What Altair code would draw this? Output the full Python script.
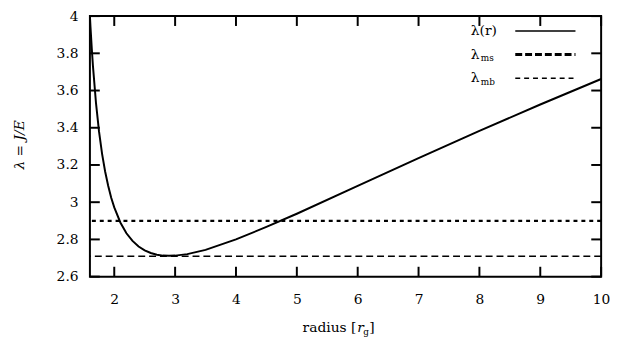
import altair as alt
import pandas as pd

# ---- data ----
radius = [1.60, 1.61, 1.63, 1.65, 1.70, 1.75, 1.80, 1.85, 1.90, 1.95,
          2.0, 2.1, 2.2, 2.3, 2.4, 2.5, 2.6, 2.7, 2.8, 2.9,
          3.0, 3.2, 3.5, 4.0, 4.5, 5.0, 6.0, 7.0, 8.0, 9.0, 10.0]
lam = [4.000, 3.939, 3.828, 3.731, 3.532, 3.379, 3.260, 3.165, 3.088, 3.024,
       2.972, 2.891, 2.833, 2.792, 2.762, 2.741, 2.727, 2.718, 2.713, 2.712,
       2.713, 2.721, 2.744, 2.800, 2.867, 2.938, 3.088, 3.237, 3.383, 3.525, 3.662]
lam_ms = [2.71]
lam_mb = [2.90]
x_ticks = [2, 3, 4, 5, 6, 7, 8, 9, 10]
y_ticks = [2.6, 2.8, 3.0, 3.2, 3.4, 3.6, 3.8, 4.0]
legend_main = ["λ(r)", "λ", "λ"]
legend_sub = ["", "ms", "mb"]

W, H = 518, 264
TOP = 6
FONT = "DejaVu Serif"
TL = 10  # inner tick length

xs = alt.Scale(domain=[1.6, 10], nice=False, zero=False)
ys = alt.Scale(domain=[2.6, 4.0], nice=False, zero=False)

x_axis = alt.Axis(values=x_ticks, title=None, labelPadding=16, format="~r",
                  labelFlush=False)
y_axis = alt.Axis(values=y_ticks, format="~r", labelPadding=12, labelFlush=False,
                  title="λ = J/E", titleFont=FONT, titleFontStyle="italic",
                  titleFontWeight="normal", titleFontSize=14, titleColor="black",
                  titleX=-71, titleY=130, titleBaseline="middle", titleAngle=270)

curve_df = pd.DataFrame({"r": radius, "lam": lam})

curve = alt.Chart(curve_df).mark_line(color="black", strokeWidth=2, clip=True).encode(
    x=alt.X("r:Q", scale=xs, axis=x_axis),
    y=alt.Y("lam:Q", scale=ys, axis=y_axis),
)

ms_line = alt.Chart(pd.DataFrame({"lam": lam_ms})).mark_rule(
    color="black", strokeWidth=1.5, strokeDash=[7, 4]).encode(
    y=alt.Y("lam:Q", scale=ys, axis=y_axis))
mb_line = alt.Chart(pd.DataFrame({"lam": lam_mb})).mark_rule(
    color="black", strokeWidth=2.2, strokeDash=[4, 4]).encode(
    y=alt.Y("lam:Q", scale=ys, axis=y_axis))

xt = pd.DataFrame({"r": x_ticks})
yt = pd.DataFrame({"lam": y_ticks})
tick_style = dict(color="black", strokeWidth=2)
ticks_bottom = alt.Chart(xt).mark_rule(**tick_style).encode(
    x=alt.X("r:Q", scale=xs, axis=x_axis), y=alt.value(H), y2=alt.value(H - TL))
ticks_top = alt.Chart(xt).mark_rule(**tick_style).encode(
    x=alt.X("r:Q", scale=xs, axis=x_axis), y=alt.value(0), y2=alt.value(TL))
ticks_left = alt.Chart(yt).mark_rule(**tick_style).encode(
    y=alt.Y("lam:Q", scale=ys, axis=y_axis), x=alt.value(0), x2=alt.value(TL))
ticks_right = alt.Chart(yt).mark_rule(**tick_style).encode(
    y=alt.Y("lam:Q", scale=ys, axis=y_axis), x=alt.value(W), x2=alt.value(W - TL))

# ---- legend ----
rows_y = [15, 39, 63]
LX_TEXT = 386
LX0, LX1 = 431, 492
legend_layers = []
dashes = [None, [7, 3], [5, 4]]
widths = [1.5, 3, 1.5]
for i in range(3):
    d = pd.DataFrame({"t": [legend_main[i]]})
    legend_layers.append(alt.Chart(d).mark_text(
        font=FONT, fontSize=14, align="left", baseline="middle", color="black").encode(
        text="t:N", x=alt.value(LX_TEXT), y=alt.value(rows_y[i])))
    if legend_sub[i]:
        ds = pd.DataFrame({"t": [legend_sub[i]]})
        legend_layers.append(alt.Chart(ds).mark_text(
            font=FONT, fontSize=9, align="left", baseline="middle", color="black").encode(
            text="t:N", x=alt.value(LX_TEXT + 10), y=alt.value(rows_y[i] + 4)))
    kw = dict(color="black", strokeWidth=widths[i])
    if dashes[i]:
        kw["strokeDash"] = dashes[i]
    legend_layers.append(alt.Chart(pd.DataFrame({"k": [i]})).mark_rule(**kw).encode(
        x=alt.value(LX0), x2=alt.value(LX1), y=alt.value(rows_y[i])))

# ---- x axis title: radius [r_g] ----
TY = 316
title_parts = [("radius [", 270, 0, 14, "normal", "right"),
               ("r", 271, 0, 14, "italic", "left"),
               ("g", 277, 4, 9, "normal", "left"),
               ("]", 283, 0, 14, "normal", "left")]
title_layers = []
for txt, px, dy, fs, st, al in title_parts:
    title_layers.append(alt.Chart(pd.DataFrame({"t": [txt]})).mark_text(
        font=FONT, fontSize=fs, fontStyle=st, align=al, baseline="middle",
        color="black").encode(text="t:N", x=alt.value(px), y=alt.value(TY + dy)))

chart = alt.layer(
    ms_line, mb_line, curve,
    ticks_bottom, ticks_top, ticks_left, ticks_right,
    *legend_layers, *title_layers,
).properties(
    width=W, height=H,
    autosize=alt.AutoSizeParams(type="none"),
    padding={"left": 83, "top": TOP, "right": 10, "bottom": 62},
    background="white",
).configure_view(
    stroke="black", strokeWidth=2
).configure_axis(
    grid=False, domain=False, tickSize=0,
    labelFont=FONT, labelFontSize=14, labelColor="black",
)

chart.save("out.html", embed_options={"renderer": "svg", "actions": False})
